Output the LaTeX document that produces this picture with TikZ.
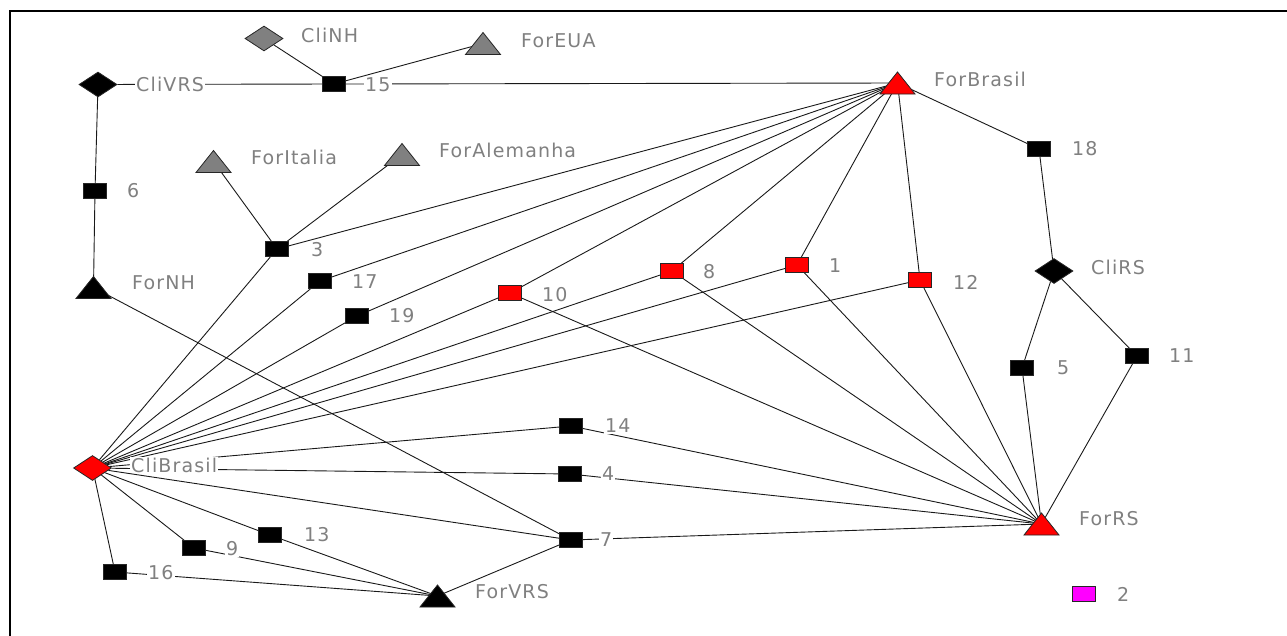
\documentclass[tikz,border=0pt]{standalone}
\usepackage{fontspec}
\newfontfamily\lblfont{DejaVu Sans}[LetterSpace=6]
\usetikzlibrary{shapes.geometric}
\definecolor{lblgray}{RGB}{128,128,128}
\definecolor{shapegray}{RGB}{128,128,128}
\definecolor{nodered}{RGB}{255,0,0}
\definecolor{nodemagenta}{RGB}{255,0,255}
\pgfdeclarelayer{background}
\pgfsetlayers{background,main}
% triangle of half width 17.5 and half height 11 around a coordinate
\newcommand\tripath[2]{%
  \filldraw[fill=#2, draw=black!85, line width=0.8pt]
    (#1) +(-17.5,11) -- +(17.5,11) -- +(0,-11) -- cycle;}
\begin{document}
\begin{tikzpicture}[x=1pt,y=-1pt,
  edge/.style={draw=black!90, line width=0.9pt},
  sqbox/.style={rectangle, minimum width=23pt, minimum height=15pt,
    inner sep=0pt, draw=black!85, line width=0.8pt},
  sqblack/.style={sqbox, fill=black},
  sqred/.style={sqbox, fill=nodered},
  dmd/.style={diamond, minimum width=38pt, minimum height=25pt,
    inner sep=0pt, draw=black!85, line width=0.8pt},
  lbl/.style={anchor=west, text=lblgray, fill=white, inner sep=1pt,
    font=\lblfont\fontsize{19}{21}\selectfont},
]
\useasboundingbox (0,0) rectangle (1287,635);
\draw[line width=2.5pt] (10,636) -- (10,11) -- (1288,11);

% triangle positions
\coordinate (ForBrasil)   at (897.5,83);
\coordinate (ForRS)       at (1041.5,524);
\coordinate (ForVRS)      at (437.5,596);
\coordinate (ForItalia)   at (213.5,161.5);
\coordinate (ForAlemanha) at (402,154.5);
\coordinate (ForEUA)      at (483,43.5);
\coordinate (ForNH)       at (93.5,287.5);

% diamonds
\node[dmd, fill=shapegray] (CliNH)     at (264,38.5) {};
\node[dmd, fill=black]     (CliVRS)    at (98,84.5) {};
\node[dmd, fill=black]     (CliRS)     at (1054,271) {};
\node[dmd, fill=nodered]   (CliBrasil) at (92.5,468) {};

% squares
\node[sqblack] (n15) at (334,84) {};
\node[sqblack] (n6)  at (95,191) {};
\node[sqblack] (n3)  at (277,249) {};
\node[sqblack] (n17) at (320,281) {};
\node[sqblack] (n19) at (357,316) {};
\node[sqred]   (n10) at (510,293) {};
\node[sqred]   (n8)  at (672,271) {};
\node[sqred]   (n1)  at (797,265) {};
\node[sqred]   (n12) at (920,280) {};
\node[sqblack] (n18) at (1039,149) {};
\node[sqblack] (n5)  at (1022,368) {};
\node[sqblack] (n11) at (1137,356) {};
\node[sqblack] (n14) at (571,426) {};
\node[sqblack] (n4)  at (570,474) {};
\node[sqblack] (n7)  at (571,540) {};
\node[sqblack] (n13) at (270,535) {};
\node[sqblack] (n9)  at (194,548) {};
\node[sqblack] (n16) at (115,572) {};
\node[sqbox, fill=nodemagenta] (n2) at (1084,594) {};

% connectors
\begin{pgfonlayer}{background}
\draw[edge] (CliNH) -- (n15);
\draw[edge] (n15) -- (ForEUA);
\draw[edge] (CliVRS) -- (n15);
\draw[edge] (n15) -- (ForBrasil);
\draw[edge] (CliVRS) -- (n6);
\draw[edge] (n6) -- (ForNH);
\draw[edge] (ForNH) -- (n7);
\draw[edge] (ForItalia) -- (n3);
\draw[edge] (ForAlemanha) -- (n3);
\foreach \m in {n3,n17,n19,n10,n8,n1,n12}{
  \draw[edge] (CliBrasil) -- (\m);
  \draw[edge] (\m) -- (ForBrasil);
}
\foreach \m in {n10,n8,n1,n12,n5,n11,n14,n4,n7}{
  \draw[edge] (\m) -- (ForRS);
}
\draw[edge] (ForBrasil) -- (n18);
\draw[edge] (n18) -- (CliRS);
\draw[edge] (CliRS) -- (n5);
\draw[edge] (CliRS) -- (n11);
\foreach \m in {n14,n4,n7,n13,n9,n16}{
  \draw[edge] (CliBrasil) -- (\m);
}
\foreach \m in {n7,n13,n9,n16}{
  \draw[edge] (\m) -- (ForVRS);
}
\end{pgfonlayer}

% triangles
\tripath{ForBrasil}{nodered}
\tripath{ForRS}{nodered}
\tripath{ForVRS}{black}
\tripath{ForItalia}{shapegray}
\tripath{ForAlemanha}{shapegray}
\tripath{ForEUA}{shapegray}
\tripath{ForNH}{black}

% labels
\node[lbl] (tCliNH)     at (300,35)  {CliNH};
\node[lbl] (tForEUA)    at (520,41)  {ForEUA};
\node[lbl] (tCliVRS)    at (135,84)  {CliVRS};
\node[lbl] (t15)        at (364,85)  {15};
\node[lbl] (tForBrasil) at (933,79)  {ForBrasil};
\node[lbl] (tForItalia) at (250,157) {ForItalia};
\node[lbl] (tForAlem)   at (438,150) {ForAlemanha};
\node[lbl] (t6)         at (126,191) {6};
\node[lbl] (t3)         at (310,250) {3};
\node[lbl] (t17)        at (351,282) {17};
\node[lbl] (t19)        at (388,316) {19};
\node[lbl] (t10)        at (541,295) {10};
\node[lbl] (t8)         at (702,272) {8};
\node[lbl] (t1)         at (828,266) {1};
\node[lbl] (t12)        at (952,282) {12};
\node[lbl] (t18)        at (1071,149) {18};
\node[lbl] (tCliRS)     at (1090,267) {CliRS};
\node[lbl] (t5)         at (1056,368) {5};
\node[lbl] (t11)        at (1168,356) {11};
\node[lbl] (tForNH)     at (131,283) {ForNH};
\node[lbl] (tCliBrasil) at (130,465) {CliBrasil};
\node[lbl] (t14)        at (604,426) {14};
\node[lbl] (t4)         at (601,474) {4};
\node[lbl] (t7)         at (599,540) {7};
\node[lbl] (t13)        at (303,535) {13};
\node[lbl] (t9)         at (225,549) {9};
\node[lbl] (t16)        at (147,573) {16};
\node[lbl] (tForVRS)    at (474,592) {ForVRS};
\node[lbl] (tForRS)     at (1078,519) {ForRS};
\node[lbl] (t2)         at (1116,594) {2};
\end{tikzpicture}
\end{document}
